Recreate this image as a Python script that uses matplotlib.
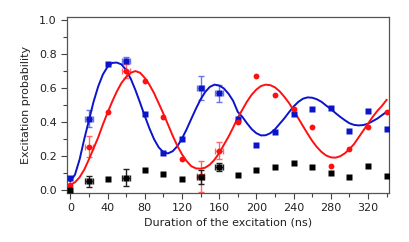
import matplotlib
matplotlib.use('Agg')
import matplotlib.pyplot as plt
from matplotlib.ticker import MultipleLocator

# measured points (duration in ns)
t_pts = [0, 20, 40, 60, 80, 100, 120, 140, 160, 180, 200, 220, 240, 260, 280, 300, 320, 340]
blue_pts = [0.07, 0.42, 0.74, 0.76, 0.45, 0.22, 0.30, 0.60, 0.57, 0.415, 0.265, 0.343,
            0.445, 0.475, 0.48, 0.35, 0.467, 0.36]
red_pts = [0.03, 0.255, 0.457, 0.70, 0.64, 0.43, 0.18, 0.08, 0.23, 0.40, 0.67, 0.56,
           0.476, 0.37, 0.14, 0.24, 0.37, 0.457]
black_pts = [0.0, 0.05, 0.063, 0.072, 0.116, 0.096, 0.063, 0.077, 0.134, 0.088, 0.116, 0.137,
             0.16, 0.137, 0.098, 0.078, 0.14, 0.082]

# error bars on a few points: (t, value, yerr)
blue_err_t = [20, 60, 140, 160]
blue_err_v = [0.42, 0.76, 0.60, 0.57]
blue_err_y = [0.05, 0.02, 0.07, 0.05]
red_err_t = [20, 60, 140, 160]
red_err_v = [0.255, 0.70, 0.08, 0.23]
red_err_y = [0.06, 0.04, 0.09, 0.05]
black_err_t = [20, 60, 140, 160]
black_err_v = [0.05, 0.072, 0.077, 0.134]
black_err_y = [0.03, 0.05, 0.04, 0.025]
x_err = 4

t_fit = list(range(0, 341, 5))
blue_fit = [0.05, 0.09, 0.18, 0.30, 0.41, 0.52, 0.61, 0.68, 0.725, 0.748,
            0.75, 0.739, 0.706, 0.654, 0.588, 0.513, 0.436, 0.363, 0.299, 0.251,
            0.222, 0.215, 0.228, 0.257, 0.302, 0.357, 0.418, 0.478, 0.533, 0.577,
            0.607, 0.62, 0.615, 0.598, 0.567, 0.525, 0.46, 0.43, 0.392, 0.358,
            0.334, 0.321, 0.322, 0.334, 0.357, 0.389, 0.421, 0.457, 0.491, 0.518,
            0.537, 0.545, 0.543, 0.534, 0.519, 0.497, 0.477, 0.453, 0.431, 0.411,
            0.393, 0.383, 0.38, 0.382, 0.39, 0.405, 0.42, 0.44, 0.46]
red_fit = [0.03, 0.045, 0.075, 0.12, 0.18, 0.245, 0.31, 0.385, 0.455, 0.52,
           0.58, 0.63, 0.665, 0.69, 0.70, 0.69, 0.66, 0.62, 0.57, 0.51,
           0.45, 0.385, 0.32, 0.26, 0.21, 0.17, 0.14, 0.127, 0.125, 0.131,
           0.149, 0.178, 0.217, 0.265, 0.313, 0.367, 0.425, 0.473, 0.521, 0.561,
           0.591, 0.612, 0.62, 0.617, 0.604, 0.581, 0.549, 0.513, 0.469, 0.423,
           0.377, 0.332, 0.289, 0.253, 0.224, 0.203, 0.192, 0.19, 0.198, 0.215,
           0.24, 0.27, 0.31, 0.35, 0.39, 0.43, 0.465, 0.495, 0.53]

BLUE = '#0a14c8'
RED = '#ff1010'

plt.rcParams['font.family'] = 'DejaVu Sans'
fig = plt.figure(figsize=(4.09, 2.42), dpi=100)
ax = fig.add_axes([0.164, 0.2025, 0.788, 0.727])

ax.errorbar(blue_err_t, blue_err_v, yerr=blue_err_y, xerr=x_err, fmt='none',
            ecolor='#6677ee', elinewidth=1, capsize=2, zorder=2)
ax.errorbar(red_err_t, red_err_v, yerr=red_err_y, xerr=x_err, fmt='none',
            ecolor='#ff6666', elinewidth=1, capsize=2, zorder=2)
ax.errorbar(black_err_t, black_err_v, yerr=black_err_y, xerr=x_err, fmt='none',
            ecolor='#222222', elinewidth=1, capsize=2, zorder=2)

ax.plot(t_fit, blue_fit, color=BLUE, lw=1.4, zorder=3)
ax.plot(t_fit, red_fit, color=RED, lw=1.4, zorder=3)

ax.plot(t_pts, blue_pts, 's', color=BLUE, ms=4.2, mec='none', zorder=4)
ax.plot(t_pts, red_pts, 'o', color=RED, ms=4.2, mec='none', zorder=4)
ax.plot(t_pts, black_pts, 's', color='black', ms=4.2, mec='none', zorder=4)

ax.set_xlim(-3.5, 343)
ax.set_ylim(-0.018, 1.018)
ax.xaxis.set_major_locator(MultipleLocator(40))
ax.xaxis.set_minor_locator(MultipleLocator(20))
ax.yaxis.set_major_locator(MultipleLocator(0.2))
ax.yaxis.set_minor_locator(MultipleLocator(0.1))
ax.yaxis.set_major_formatter(plt.FormatStrFormatter('%.1f'))
ax.tick_params(which='both', direction='out', colors='#444444', labelcolor='#222222',
               labelsize=8, width=0.8)
ax.tick_params(which='major', length=4)
ax.tick_params(which='minor', length=3)
for s in ax.spines.values():
    s.set_color('#555555')
    s.set_linewidth(0.9)

ax.set_xlabel('Duration of the excitation (ns)', fontsize=8, color='#222222', labelpad=3)
ax.set_ylabel('Excitation probability', fontsize=8, color='#222222', labelpad=6)

fig.savefig('out.png', dpi=100)
